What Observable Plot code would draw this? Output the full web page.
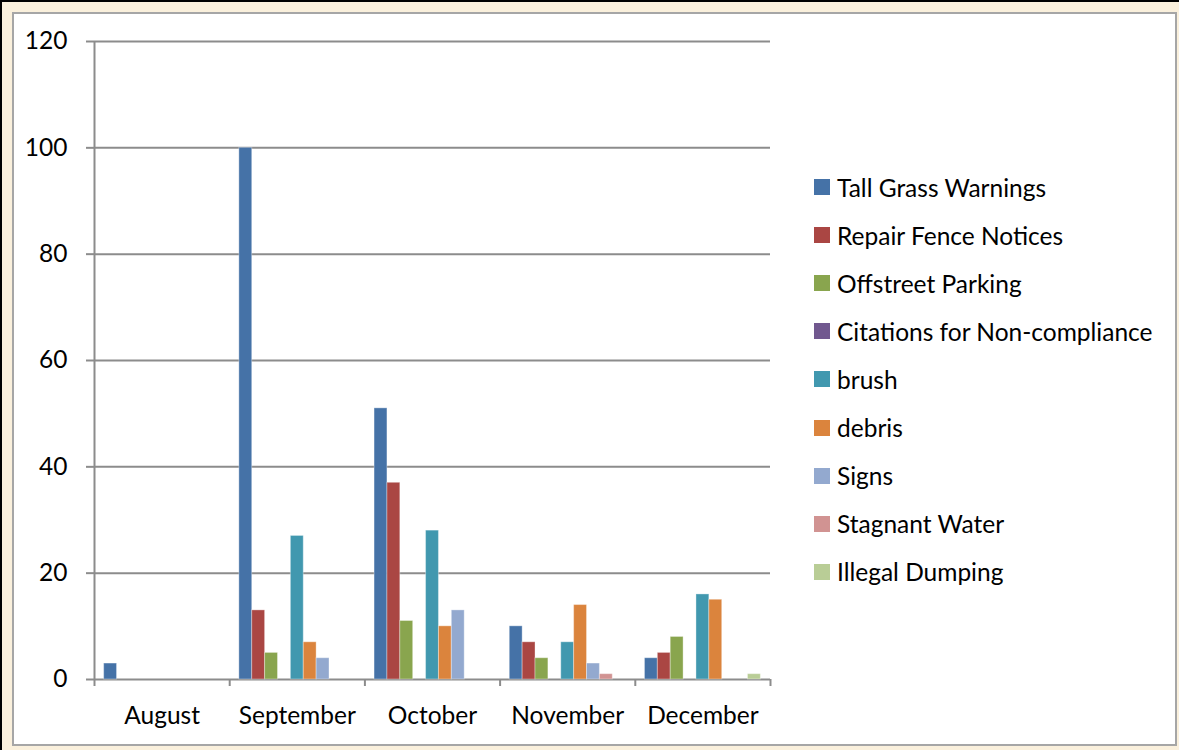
<!DOCTYPE html>
<html>
<head>
<meta charset="utf-8">
<script src="https://cdn.jsdelivr.net/npm/d3@7"></script>
<script src="https://cdn.jsdelivr.net/npm/@observablehq/plot@0.6"></script>
<style>
  html, body { margin: 0; padding: 0; }
  body {
    width: 1179px; height: 750px; position: relative; overflow: hidden;
    background: #faf0dc; font-family: Lato, "Open Sans", sans-serif;
  }
  #edge { position: absolute; left: 0; top: 0; width: 1179px; height: 750px;
    border-top: 2px solid #000; border-left: 2px solid #000; box-sizing: border-box; }
  #panel { position: absolute; left: 12px; top: 12px; width: 1165px; height: 734px;
    background: #fff; border: 2px solid #a6a6a6; box-sizing: border-box; }
  #chart { position: absolute; left: 0; top: 0; }
  #legend { position: absolute; left: 814px; top: 163px; }
  .item { display: flex; align-items: center; height: 48.1px; font-size: 24.5px; color: #000; }
  .sw { width: 16px; height: 16px; margin-right: 7px; flex: none; }
</style>
</head>
<body>
<div id="edge"></div>
<div id="panel"></div>
<div id="chart"></div>
<div id="legend"></div>
<script>
const months = ["August", "September", "October", "November", "December"];
const seriesNames = ["Tall Grass Warnings", "Repair Fence Notices", "Offstreet Parking",
  "Citations for Non-compliance", "brush", "debris", "Signs", "Stagnant Water", "Illegal Dumping"];
const seriesColors = ["#4572a7", "#aa4643", "#89a54e", "#71588f", "#4198af", "#db843d",
  "#93a9cf", "#d19392", "#b9cd96"];
const tallGrass   = [3, 100, 51, 10, 4];
const repairFence = [0, 13, 37, 7, 5];
const offstreet   = [0, 5, 11, 4, 8];
const citations   = [0, 0, 0, 0, 0];
const brush       = [0, 27, 28, 7, 16];
const debris      = [0, 7, 10, 14, 15];
const signs       = [0, 4, 13, 3, 0];
const stagnant    = [0, 0, 0, 1, 0];
const illegal     = [0, 0, 0, 0, 1];
const yTicks = [0, 20, 40, 60, 80, 100, 120];

const seriesValues = [tallGrass, repairFence, offstreet, citations, brush, debris, signs, stagnant, illegal];
const nS = seriesNames.length;
const slots = nS + 1.5; // Excel gap width 150%
const rows = [];
months.forEach((m, i) => {
  seriesNames.forEach((s, j) => {
    const v = seriesValues[j][i];
    if (v > 0) rows.push({month: m, mi: i, series: s, sj: j, value: v,
      x1: i + (0.75 + j) / slots, x2: i + (1.75 + j) / slots});
  });
});

const grey = "#8c8c8c";
const chart = Plot.plot({
  width: 1179, height: 750,
  marginLeft: 94, marginRight: 409, marginTop: 41, marginBottom: 71,
  style: {background: "transparent", fontFamily: "Lato, 'Open Sans', sans-serif", fontSize: "24.5px", color: "#000"},
  x: {type: "linear", domain: [0, months.length]},
  y: {domain: [0, 120]},
  color: {domain: seriesNames, range: seriesColors},
  marks: [
    Plot.ruleY(yTicks, {stroke: grey, strokeWidth: 2, strokeOpacity: 1}),
    Plot.axisY({ticks: yTicks, tickSize: 8, tickPadding: 19, stroke: grey, strokeWidth: 2,
      strokeOpacity: 1, fill: "#000", fontSize: 24.5, label: null}),
    Plot.axisX({ticks: d3.range(months.length + 1), tickSize: 7, tickFormat: () => "",
      stroke: grey, strokeWidth: 2, strokeOpacity: 1, label: null}),
    Plot.text(months, {x: (d, i) => i + 0.5, frameAnchor: "bottom", dy: 44, text: d => d,
      fontSize: 24.5, fill: "#000"}),
    Plot.ruleX([0], {y1: 0, y2: 120, stroke: grey, strokeWidth: 2}),
    Plot.rectY(rows, {x1: "x1", x2: "x2", y1: 0, y2: "value", fill: "series",
      stroke: "#fff", strokeOpacity: 0.35, strokeWidth: 1})
  ]
});
document.getElementById("chart").appendChild(chart);

const legend = document.getElementById("legend");
seriesNames.forEach((s, j) => {
  const row = document.createElement("div");
  row.className = "item";
  const sw = document.createElement("span");
  sw.className = "sw";
  sw.style.background = seriesColors[j];
  const t = document.createElement("span");
  t.textContent = s;
  row.appendChild(sw); row.appendChild(t);
  legend.appendChild(row);
});
</script>
</body>
</html>
